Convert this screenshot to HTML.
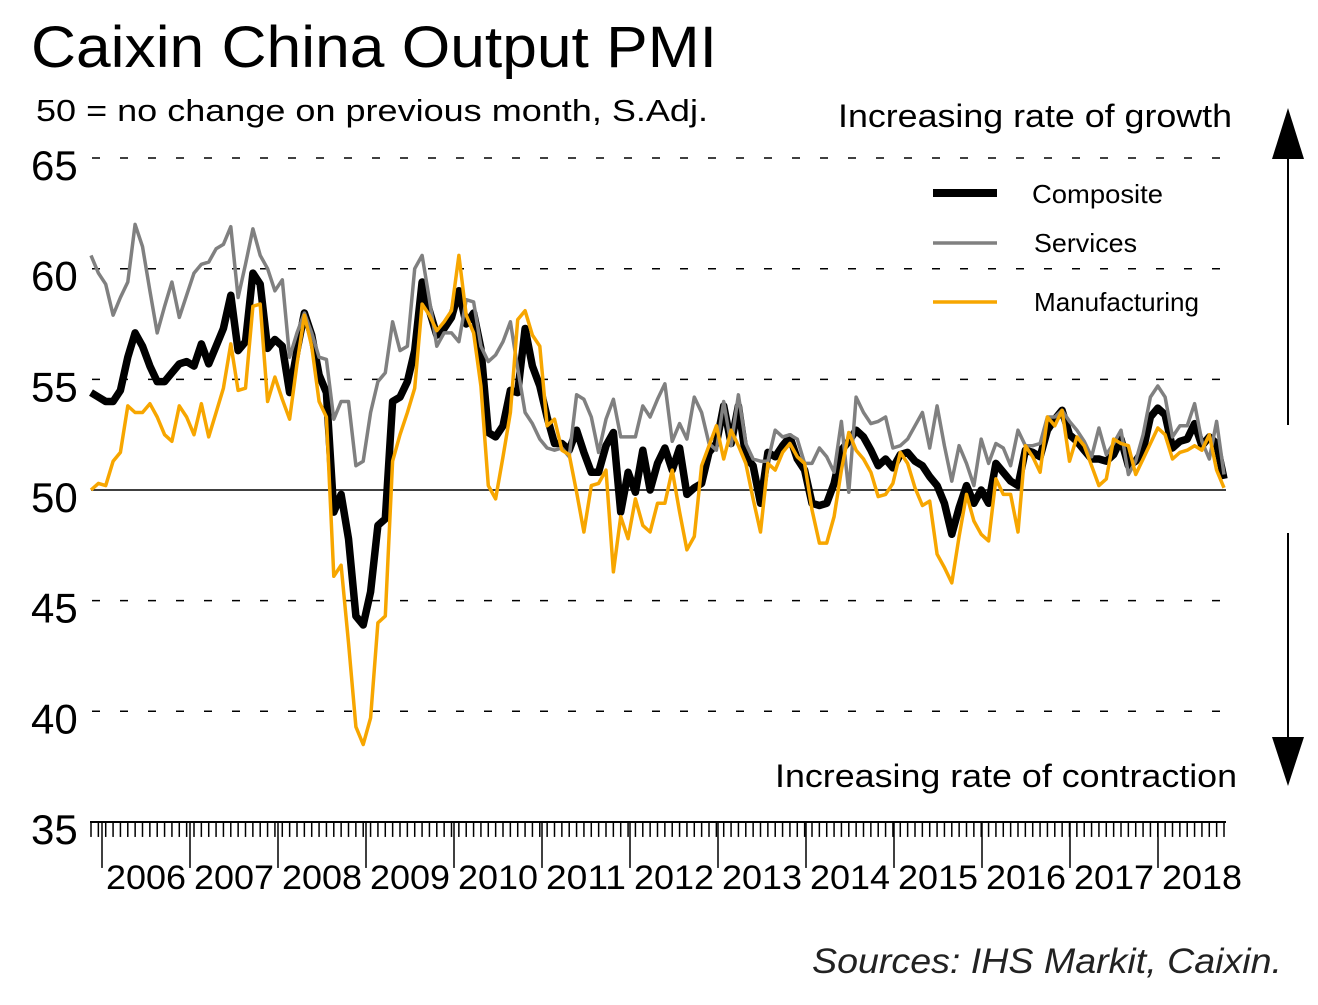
<!DOCTYPE html>
<html><head><meta charset="utf-8"><style>
html,body{margin:0;padding:0;background:#fff}
svg{display:block}
text{font-family:"Liberation Sans",Arial,sans-serif}
</style></head><body>
<svg id="chart" width="1318" height="1005" viewBox="0 0 1318 1005" xmlns="http://www.w3.org/2000/svg">
<text x="31" y="67" font-size="58" textLength="686" lengthAdjust="spacingAndGlyphs">Caixin China Output PMI</text>
<text x="36" y="121" font-size="31" textLength="672" lengthAdjust="spacingAndGlyphs">50 = no change on previous month, S.Adj.</text>
<text x="838" y="127" font-size="32" textLength="394" lengthAdjust="spacingAndGlyphs">Increasing rate of growth</text>
<text x="775" y="787" font-size="32" textLength="462" lengthAdjust="spacingAndGlyphs">Increasing rate of contraction</text>
<text x="812" y="973" font-size="35" font-style="italic" fill="#222" textLength="470" lengthAdjust="spacingAndGlyphs">Sources: IHS Markit, Caixin.</text>
<g>
<line x1="1288" y1="150" x2="1288" y2="425" stroke="#000" stroke-width="2"/>
<polygon points="1288,108 1272,159 1304,159" fill="#000"/>
</g>
<g>
<line x1="1288" y1="533" x2="1288" y2="750" stroke="#000" stroke-width="2"/>
<polygon points="1288,786 1272,737 1304,737" fill="#000"/>
</g>
<g id="grid"></g>
<g id="axes"></g>
<g id="series"></g>
<g>
<g><line x1="933" y1="193" x2="997" y2="193" stroke="#000" stroke-width="8"/><text x="1032" y="203" font-size="26" textLength="131" lengthAdjust="spacingAndGlyphs">Composite</text></g>
<g><line x1="933" y1="243" x2="997" y2="243" stroke="#808080" stroke-width="3.5"/><text x="1034" y="252" font-size="26" textLength="103" lengthAdjust="spacingAndGlyphs">Services</text></g>
<g><line x1="933" y1="302" x2="997" y2="302" stroke="#F7A600" stroke-width="3.5"/><text x="1034" y="311" font-size="26" textLength="165" lengthAdjust="spacingAndGlyphs">Manufacturing</text></g>
</g>
</svg>
<script>
const yTicks = [65, 60, 55, 50, 45, 40, 35];
const years = ["2006","2007","2008","2009","2010","2011","2012","2013","2014","2015","2016","2017","2018"];
const composite = [54.4,54.2,54.0,54.0,54.5,56.0,57.1,56.5,55.6,54.9,54.9,55.3,55.7,55.8,55.6,56.6,55.7,56.5,57.3,58.8,56.3,56.7,59.8,59.3,56.4,56.8,56.5,54.4,56.3,58.0,57.0,55.2,54.4,49.0,49.8,47.8,44.3,43.9,45.4,48.4,48.7,54.0,54.2,54.9,56.3,59.4,58.1,57.0,57.3,57.8,59.0,57.5,58.0,56.4,52.6,52.4,52.9,54.5,54.4,57.3,55.6,54.7,53.3,52.1,52.1,51.8,52.7,51.7,50.8,50.8,52.0,52.6,49.0,50.8,49.9,51.8,50.0,51.2,51.9,50.9,51.9,49.8,50.1,50.3,51.7,52.1,53.8,52.1,53.8,51.5,51.1,49.4,51.7,51.5,52.0,52.4,51.4,50.9,49.4,49.3,49.4,50.3,51.8,52.2,52.7,52.4,51.8,51.1,51.4,51.0,51.6,51.7,51.3,51.1,50.6,50.2,49.4,48.0,49.2,50.2,49.4,50.0,49.4,51.2,50.8,50.4,50.2,51.8,51.7,51.5,52.7,53.2,53.6,52.5,52.2,51.8,51.4,51.4,51.3,51.6,52.3,51.1,51.3,51.8,53.3,53.7,53.4,51.9,52.2,52.3,53.0,52.0,52.4,52.1,50.5];
const services = [60.6,59.8,59.3,57.9,58.7,59.4,62.0,61.0,59.0,57.1,58.3,59.4,57.8,58.8,59.8,60.2,60.3,60.9,61.1,61.9,58.7,60.2,61.8,60.6,60.0,59.0,59.5,56.0,57.1,58.0,57.1,56.0,55.9,53.2,54.0,54.0,51.1,51.3,53.5,54.9,55.3,57.6,56.3,56.5,60.0,60.6,58.6,56.5,57.1,57.1,56.7,58.6,58.5,56.5,55.8,56.1,56.7,57.6,55.5,53.5,53.0,52.3,51.9,51.8,51.9,51.5,54.3,54.1,53.3,51.7,53.2,54.1,52.4,52.4,52.4,53.8,53.3,54.1,54.8,52.2,53.0,52.3,54.2,53.5,52.1,51.8,54.0,52.0,54.3,52.1,51.4,51.3,51.3,52.7,52.4,52.5,52.3,51.2,51.2,51.9,51.5,50.8,53.1,49.9,54.2,53.5,53.0,53.1,53.3,51.9,52.0,52.3,52.9,53.5,51.9,53.8,52.0,50.4,52.0,51.2,50.2,52.3,51.2,52.1,51.9,51.1,52.7,52.0,52.0,52.1,53.3,53.3,53.6,53.1,52.7,52.2,51.5,52.8,51.6,52.1,52.7,50.7,51.3,52.5,54.2,54.7,54.2,52.4,52.9,52.9,53.9,52.2,51.4,53.1,50.7];
const manufacturing = [50.0,50.3,50.2,51.3,51.7,53.8,53.5,53.5,53.9,53.3,52.5,52.2,53.8,53.3,52.5,53.9,52.4,53.5,54.6,56.6,54.5,54.6,58.3,58.4,54.0,55.1,54.1,53.2,55.7,57.9,56.5,54.0,53.3,46.1,46.6,43.1,39.3,38.5,39.7,44.0,44.3,51.3,52.5,53.5,54.6,58.4,57.9,57.2,57.6,58.1,60.6,57.9,57.1,54.7,50.2,49.6,51.5,53.5,57.7,58.1,57.0,56.5,52.9,53.2,51.8,51.6,49.9,48.1,50.2,50.3,50.9,46.3,48.8,47.8,49.6,48.4,48.1,49.4,49.4,50.9,49.0,47.3,47.9,51.1,52.0,52.9,51.4,52.7,52.0,51.2,49.6,48.1,51.2,50.9,51.7,52.1,51.5,51.2,49.1,47.6,47.6,48.8,50.9,52.6,51.8,51.4,50.8,49.7,49.8,50.3,51.7,51.2,50.1,49.3,49.5,47.1,46.5,45.8,47.9,49.8,48.6,48.0,47.7,50.5,49.8,49.8,48.1,52.0,51.5,50.8,53.3,52.9,53.6,51.3,52.4,52.0,51.1,50.2,50.5,52.3,52.1,52.0,50.7,51.4,52.1,52.8,52.5,51.4,51.7,51.8,52.0,51.8,52.5,50.9,50.1];

const NS = "http://www.w3.org/2000/svg";
const X0 = 91, X1 = 1224, Y50 = 490, PXU = 22.13;
const nMonths = composite.length;
function xPos(i){ return X0 + i * (X1 - X0) / (nMonths - 1); }
function yPos(v){ return Y50 - (v - 50) * PXU; }
function mk(tag, attrs, parent){ const e = document.createElementNS(NS, tag); for (const k in attrs) e.setAttribute(k, attrs[k]); parent.appendChild(e); return e; }

const grid = document.getElementById('grid');
const axes = document.getElementById('axes');
yTicks.forEach(v => {
  const y = yPos(v);
  if (v !== 50 && v !== 35) {
    const gl = mk('line', {x1: 92, y1: y, x2: 1222, y2: y, stroke: '#000', 'stroke-width': 1.5, 'stroke-dasharray': '8,20'}, grid);
    
    
  }
  const t = mk('text', {x: 31, y: y + 22, 'font-size': 42}, axes);
  t.textContent = v;
  
  
});
const base = mk('line', {x1: 91, y1: Y50, x2: 1226, y2: Y50, stroke: '#000', 'stroke-width': 1.5}, axes);


const xAxisY = yPos(35);
const xa = mk('line', {x1: 90, y1: xAxisY, x2: 1226, y2: xAxisY, stroke: '#000', 'stroke-width': 2}, axes);


for (let i = 0; i < nMonths; i++) {
  const x = xPos(i);
  const tk = mk('line', {x1: x, y1: xAxisY, x2: x, y2: xAxisY + 15, stroke: '#000', 'stroke-width': 1.5}, axes);
  
  
}
const yearStart = 102, yearW = 88;
years.forEach((yr, k) => {
  const x = yearStart + k * yearW;
  const lt = mk('line', {x1: x, y1: xAxisY, x2: x, y2: xAxisY + 46, stroke: '#000', 'stroke-width': 1.5}, axes);
  
  
  const t = mk('text', {x: x + yearW / 2, y: 889, 'font-size': 34, 'text-anchor': 'middle', textLength: 80, lengthAdjust: 'spacingAndGlyphs'}, axes);
  t.textContent = yr;
  
  
});

const seriesG = document.getElementById('series');
function drawLine(data, color, w, name){
  const pts = data.map((v, i) => xPos(i).toFixed(1) + ',' + yPos(v).toFixed(1)).join(' ');
  const p = mk('polyline', {points: pts, fill: 'none', stroke: color, 'stroke-width': w, 'stroke-linejoin': 'round'}, seriesG);
  
  
}
drawLine(composite, '#000', 7.5, 'composite-line');
drawLine(services, '#808080', 3.5, 'services-line');
drawLine(manufacturing, '#F7A600', 3.5, 'manufacturing-line');
</script>
</body></html>
